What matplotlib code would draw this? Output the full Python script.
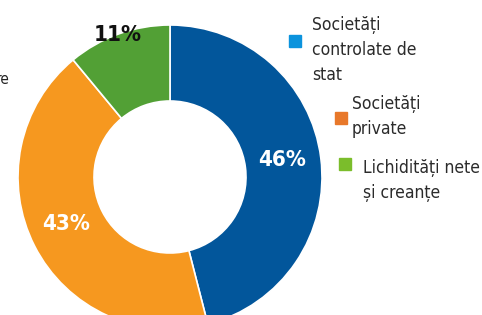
import matplotlib.pyplot as plt
from matplotlib.patches import Rectangle

# share of portfolio
labels = ["Societăți controlate de stat", "Societăți private", "Lichidități nete și creanțe"]
values = [46, 43, 11]
pct_text = ["46%", "43%", "11%"]
slice_colors = ["#02569b", "#f6981f", "#52a035"]

# legend entries (text as printed, with line breaks)
legend_text = ["Societăți\ncontrolate de\nstat", "Societăți\nprivate", "Lichidități nete\nși creanțe"]
legend_colors = ["#0b93dd", "#e8782a", "#7bbd2b"]

plt.rcParams["font.family"] = ["DejaVu Sans"]
plt.rcParams["font.stretch"] = "condensed"

W, H = 482, 315
fig = plt.figure(figsize=(W / 100, H / 100), dpi=100)
ax = fig.add_axes([0, 0, 1, 1])

cx, cy, r = 170, H - 177, 152
wedges, _ = ax.pie(
    values,
    colors=slice_colors,
    startangle=90,
    counterclock=False,
    radius=r,
    center=(cx, cy),
    wedgeprops=dict(width=r * 0.5, edgecolor="white", linewidth=1.2),
    frame=True,
)
ax.set_xlim(0, W)
ax.set_ylim(0, H)
ax.set_aspect("equal")
ax.axis("off")

# percentage labels
pct_pos = [(282, 160), (66, 224), (118, 35)]
pct_col = ["white", "white", "#111111"]
for t, (x, y), c in zip(pct_text, pct_pos, pct_col):
    ax.text(x, H - y, t, color=c, fontsize=16, fontweight="bold",
            ha="center", va="center")

# hand placed legend
sq = [(289, 35), (335, 112), (339, 158)]
txt = [(312, 16), (352, 95), (363, 159)]
for lt, lc, (sx, sy), (tx, ty) in zip(legend_text, legend_colors, sq, txt):
    ax.add_patch(Rectangle((sx, H - sy - 12), 12, 12, color=lc))
    ax.text(tx, H - ty, lt, color="#2b2b2b", fontsize=12.5,
            ha="left", va="top", linespacing=1.5)

# clipped text at left edge
ax.text(-4, H - 79, "re", color="#222222", fontsize=11, ha="left", va="center")

fig.savefig("out.png", dpi=100)
